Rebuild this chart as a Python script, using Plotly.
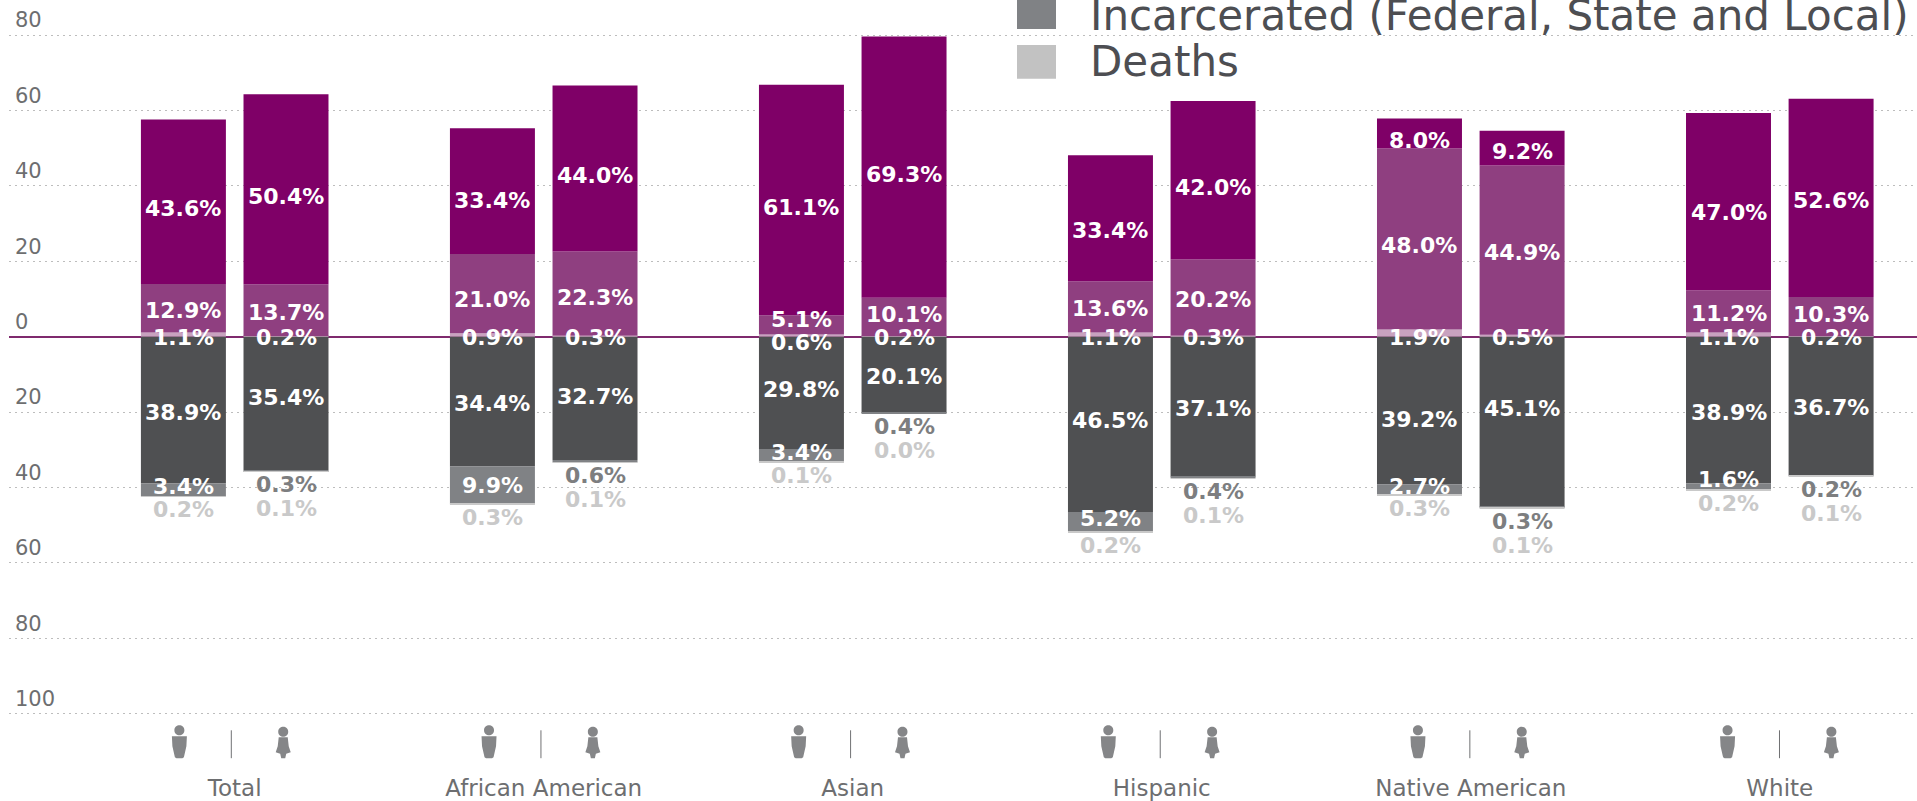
import plotly.graph_objects as go

groups = ["Total", "African American", "Asian", "Hispanic", "Native American", "White"]

# values alternate man, woman within each group
purple_sliver = [1.1, 0.2, 0.9, 0.3, 0.6, 0.2, 1.1, 0.3, 1.9, 0.5, 1.1, 0.2]
purple_mid = [12.9, 13.7, 21.0, 22.3, 5.1, 10.1, 13.6, 20.2, 48.0, 44.9, 11.2, 10.3]
purple_top = [43.6, 50.4, 33.4, 44.0, 61.1, 69.3, 33.4, 42.0, 8.0, 9.2, 47.0, 52.6]
grey_main = [38.9, 35.4, 34.4, 32.7, 29.8, 20.1, 46.5, 37.1, 39.2, 45.1, 38.9, 36.7]
incarcerated = [3.4, 0.3, 9.9, 0.6, 3.4, 0.4, 5.2, 0.4, 2.7, 0.3, 1.6, 0.2]
deaths = [0.2, 0.1, 0.3, 0.1, 0.1, 0.0, 0.2, 0.1, 0.3, 0.1, 0.2, 0.1]

y_ticks = [80, 60, 40, 20, 0, -20, -40, -60, -80, -100]

FONT = "DejaVu Sans"
DARK_PURPLE = "#7f0067"
MID_PURPLE = "#8f3f80"
PALE_PURPLE = "#c8a2bf"
DARK_GREY = "#4f5052"
MID_GREY = "#808285"
PALE_GREY = "#c9c9c9"
TEXT_GREY = "#6d6e70"

OFFSET = 0.166
BAR_W = 0.275
bar_x = []
for i in range(len(groups)):
    bar_x += [i - OFFSET, i + OFFSET]

# pixel nudges (up is positive) for labels the source did not centre in their segments
TOP_NUDGE = {2: -2, 6: -5, 9: 4, 10: -4, 11: 4}
MID_NUDGE = {2: -4, 3: -2, 4: 7, 5: 4, 8: -4, 11: 4}
GREY_NUDGE = {1: 8, 3: 4, 4: 5, 6: 6, 8: -7, 9: 15}

fig = go.Figure()
series = [
    ("Group 1 (below legend crop)", purple_sliver, PALE_PURPLE, 1),
    ("Group 2 (below legend crop)", purple_mid, MID_PURPLE, 1),
    ("Group 3 (below legend crop)", purple_top, DARK_PURPLE, 1),
    ("Group 4 (below legend crop)", grey_main, DARK_GREY, -1),
    ("Incarcerated (Federal, State and Local)", incarcerated, MID_GREY, -1),
    ("Deaths", deaths, PALE_GREY, -1),
]
for name, vals, color, sign in series:
    fig.add_trace(go.Bar(x=bar_x, y=[sign * v for v in vals], width=BAR_W, name=name,
                         marker=dict(color=color, line_width=0), showlegend=False))

annotations = []


def label(x, y, value, color, shift=0):
    annotations.append(dict(x=x, y=y, xref="x", yref="y", text=f"{value:.1f}%", showarrow=False,
                            yshift=shift, font=dict(family=FONT, size=22, color=color, weight="bold")))


for i, x in enumerate(bar_x):
    s, m, t, g, c, d = (purple_sliver[i], purple_mid[i], purple_top[i],
                        grey_main[i], incarcerated[i], deaths[i])
    label(x, s + m + t / 2, t, "white", -7 + TOP_NUDGE.get(i, 0))
    label(x, s + m / 2, m, "white", -2 + MID_NUDGE.get(i, 0))
    label(x, 0, s, "white", -6 if s == 0.6 else -1)
    label(x, -g / 2, g, "white", -2 + GREY_NUDGE.get(i, 0))
    if c < 1.0:
        label(x, -(g + c + d), c, "#7d7e80", -13)
        label(x, -(g + c + d), d, PALE_GREY, -37)
    else:
        label(x, -(g + c / 2), c, "white", 7 if c < 2 else (3 if c < 6 else 0))
        label(x, -(g + c + d), d, PALE_GREY, -13)

# legend (the top of the source graphic is cropped)
LEGEND = [("Incarcerated (Federal, State and Local)", MID_GREY, 16, 12), ("Deaths", "#c2c2c2", 62, 62)]
for txt, col, yc, swatch_y in LEGEND:
    annotations.append(dict(xref="paper", yref="paper", x=(1088 - 9) / 1908, y=1 - yc / 770,
                            xanchor="left", yanchor="middle", text=txt, showarrow=False,
                            font=dict(family=FONT, size=42, color="#4d4e52")))

MAN = ("M-5,28 C-5,34.7 5,34.7 5,28 C5,21.3 -5,21.3 -5,28 Z "
       "M-7.5,22 L7.5,22 L7,12 L4.5,1 L3,0 L-3,0 L-4.5,1 L-7,12 Z")
WOMAN = ("M-5,26.5 C-5,33.2 5,33.2 5,26.5 C5,19.8 -5,19.8 -5,26.5 Z "
         "M-4.5,21 L4.5,21 L5.5,12 L7.5,6 L3,4.5 L2,0 L-2,0 L-3,4.5 L-7.5,6 L-5.5,12 Z")
ICON_Y = -111.8
shapes = []
for i in range(len(groups)):
    gx = 1.002 * i - 0.011
    for sign, path in [(-1, MAN), (1, WOMAN)]:
        shapes.append(dict(type="path", xsizemode="pixel", ysizemode="pixel", xref="x", yref="y",
                           xanchor=gx + sign * 0.168, yanchor=ICON_Y, path=path,
                           fillcolor="#858688", line_width=0, layer="above"))
    shapes.append(dict(type="line", xref="x", yref="y", x0=gx, x1=gx, y0=ICON_Y, y1=ICON_Y + 7.4,
                       line=dict(color="#707173", width=1)))

fig.update_layout(
    width=1917, height=801,
    margin=dict(l=9, r=0, t=0, b=31),
    paper_bgcolor="white", plot_bgcolor="white",
    barmode="relative", showlegend=False,
    annotations=annotations, shapes=shapes,
    xaxis=dict(range=[-0.7304, 5.444], tickmode="array", tickvals=list(range(len(groups))),
               ticktext=groups, showgrid=False, zeroline=False, showline=False, ticks="",
               ticklabelstandoff=4,
               tickfont=dict(family=FONT, size=23, color=TEXT_GREY), fixedrange=True),
    yaxis=dict(range=[-114.4, 89.3], tickmode="array", tickvals=y_ticks,
               ticktext=[str(abs(v)) for v in y_ticks],
               ticklabelposition="inside", ticklabelshift=-15, ticklabelstandoff=3, ticks="",
               tickfont=dict(family=FONT, size=21, color=TEXT_GREY),
               showgrid=True, gridcolor="#bdbdbd", gridwidth=1, griddash="2px,4px",
               zeroline=True, zerolinecolor="#7f2a6e", zerolinewidth=1.5, showline=False,
               fixedrange=True),
)
for txt, col, yc, swatch_y in LEGEND:
    fig.add_shape(type="rect", xref="paper", yref="paper",
                  x0=(1017 - 9) / 1908, x1=(1056 - 9) / 1908,
                  y0=1 - (swatch_y + 17) / 770, y1=1 - (swatch_y - 17) / 770,
                  fillcolor=col, line_width=0)

fig.write_html("out.html", config={"displayModeBar": False},
               post_script="document.body.style.margin='0';")
